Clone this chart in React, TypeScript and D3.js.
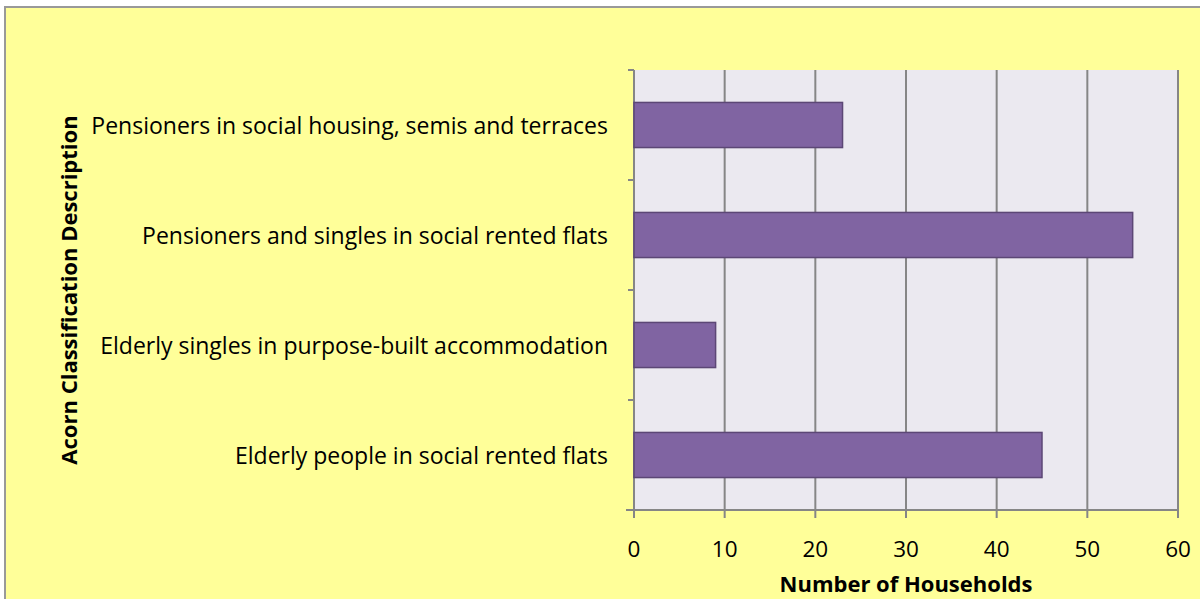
import React from "react";
import * as d3 from "d3";

const categories = [
  "Pensioners in social housing, semis and terraces",
  "Pensioners and singles in social rented flats",
  "Elderly singles in purpose-built accommodation",
  "Elderly people in social rented flats",
];
const values = [23, 55, 9, 45];
const xTicks = [0, 10, 20, 30, 40, 50, 60];

export default function App() {
  const W = 1200, H = 599;
  const left = 634, right = 1178, top = 70, bottom = 510;
  const x = d3.scaleLinear().domain([0, 60]).range([left, right]);
  const y = d3.scaleBand().domain(categories).range([top, bottom]).paddingInner(0.59).paddingOuter(0.295);
  const font = "'Open Sans', sans-serif";
  const bandEdges = d3.range(categories.length + 1).map((i) => top + (i * (bottom - top)) / categories.length);
  return (
    <svg width={W} height={H} style={{ position: "absolute", left: 0, top: 0 }} fontFamily={font}>
      <rect x={0} y={0} width={W} height={H} fill="#fff" />
      <rect x={5} y={7} width={1200} height={600} fill="#FFFF99" stroke="#999" strokeWidth={2} />
      <rect x={left} y={top} width={right - left} height={bottom - top} fill="#EBE9F0" />
      {xTicks.map((t) => (
        <line key={"g" + t} x1={x(t)} x2={x(t)} y1={top} y2={bottom + 8} stroke="#868686" strokeWidth={2} />
      ))}
      <line x1={left} x2={left} y1={top} y2={bottom} stroke="#868686" strokeWidth={2} />
      <line x1={left - 8} x2={right} y1={bottom} y2={bottom} stroke="#868686" strokeWidth={2} />
      {bandEdges.map((e, i) => (
        <line key={"yt" + i} x1={left - 6} x2={left} y1={e} y2={e} stroke="#868686" strokeWidth={2} />
      ))}
      {categories.map((c, i) => (
        <rect key={c} x={x(0)} y={y(c)!} width={x(values[i]) - x(0)} height={y.bandwidth()} fill="#8064A2" stroke="#5C4776" strokeWidth={1.5} />
      ))}
      {categories.map((c) => (
        <text key={"l" + c} x={608} y={y(c)! + y.bandwidth() / 2} textAnchor="end" dominantBaseline="central" fontSize={23} fill="#000">
          {c}
        </text>
      ))}
      {xTicks.map((t) => (
        <text key={"t" + t} x={x(t)} y={548} textAnchor="middle" dominantBaseline="central" fontSize={22.5} fill="#000">
          {t}
        </text>
      ))}
      <text x={906} y={583} textAnchor="middle" dominantBaseline="central" fontSize={22} fontWeight="bold" fill="#000">
        Number of Households
      </text>
      <text transform={`translate(68,${(top + bottom) / 2}) rotate(-90)`} textAnchor="middle" dominantBaseline="central" fontSize={22} fontWeight="bold" fill="#000">
        Acorn Classification Description
      </text>
    </svg>
  );
}
